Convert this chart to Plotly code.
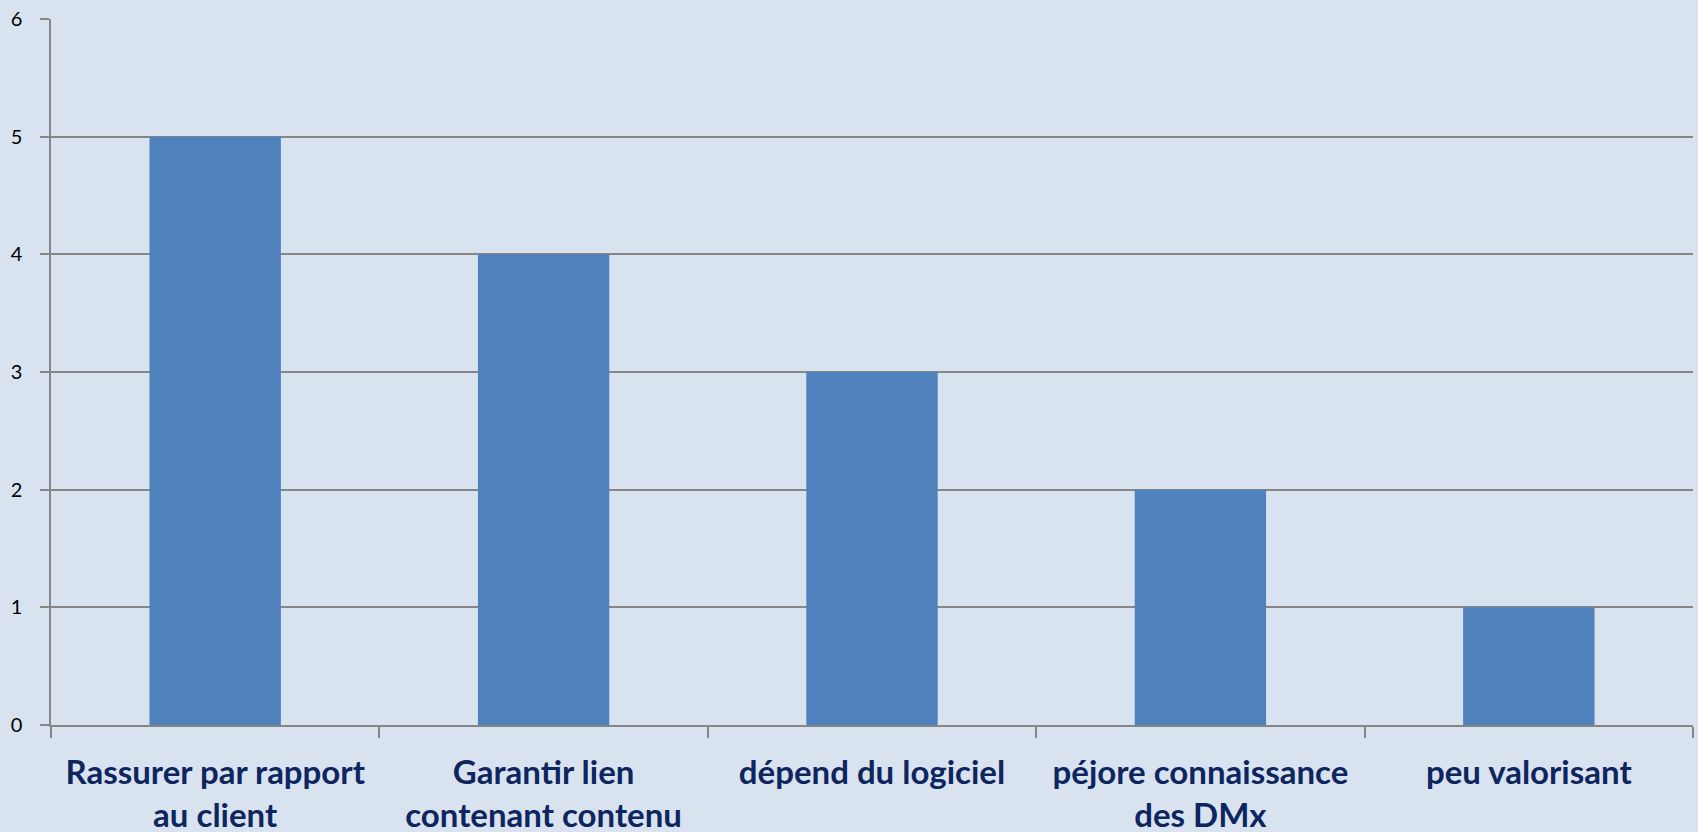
import plotly.graph_objects as go

categories = [
    "Rassurer par rapport<br>au client",
    "Garantir lien<br>contenant contenu",
    "dépend du logiciel",
    "péjore connaissance<br>des DMx",
    "peu valorisant",
]
values = [5, 4, 3, 2, 1]
y_ticks = [0, 1, 2, 3, 4, 5, 6]

BG = "#d9e3ef"

fig = go.Figure(
    go.Bar(
        x=categories,
        y=values,
        marker=dict(color="#4f81bd", line=dict(width=0)),
    )
)

fig.update_layout(
    width=1698,
    height=832,
    margin=dict(l=51, r=5, t=19, b=107, autoexpand=False),
    paper_bgcolor=BG,
    plot_bgcolor="rgba(0,0,0,0)",
    bargap=0.6,
    showlegend=False,
    font=dict(family="Lato, Open Sans, sans-serif"),
)

fig.update_yaxes(
    range=[0, 6],
    tickvals=y_ticks,
    showgrid=True,
    gridcolor="#868686",
    gridwidth=1.5,
    showline=True,
    linecolor="#868686",
    linewidth=1.5,
    ticks="outside",
    ticklen=9,
    tickcolor="#868686",
    tickwidth=1.5,
    tickfont=dict(size=20, color="#000000", family="Lato, sans-serif"),
    ticklabelstandoff=14,
    zeroline=False,
)

fig.update_xaxes(
    showline=True,
    linecolor="#868686",
    linewidth=1.5,
    ticks="outside",
    tickson="boundaries",
    ticklen=11,
    tickcolor="#868686",
    tickwidth=1.5,
    tickfont=dict(size=33, color="#0d2660", family="Lato, sans-serif", weight="bold"),
    ticklabelstandoff=18,
    automargin=False,
)

fig.write_html(
    "out.html",
    config={"displayModeBar": False},
    post_script=(
        "document.body.style.margin='0';"
        "document.body.style.padding='0';"
        "document.body.style.background='" + BG + "';"
        "document.body.style.overflow='hidden';"
    ),
)
